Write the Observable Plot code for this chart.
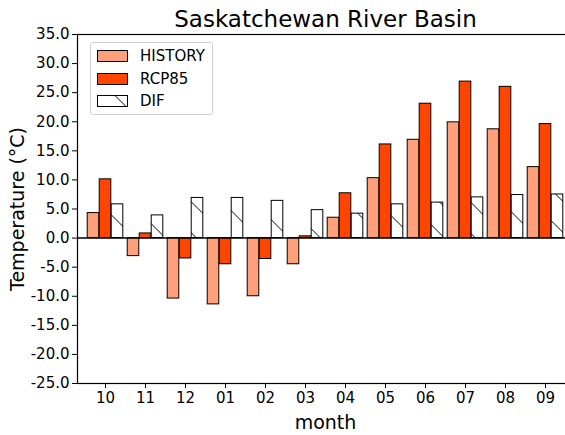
<!DOCTYPE html>
<html>
<head>
<meta charset="utf-8">
<script src="https://cdn.jsdelivr.net/npm/d3@7"></script>
<script src="https://cdn.jsdelivr.net/npm/@observablehq/plot@0.6"></script>
<style>
  html, body { margin: 0; padding: 0; background: white; overflow: hidden; }
  #wrap { position: relative; width: 565px; height: 435px; overflow: hidden; font-family: "DejaVu Sans", sans-serif; }
  #legend { position: absolute; left: 90px; top: 42px; width: 123px; height: 73px; box-sizing: border-box;
    border: 1px solid #d0d0d0; border-radius: 3px; background: rgba(255,255,255,0.85); }
  .row { position: absolute; left: 6px; height: 14px; display: flex; align-items: center; font-size: 15px; color: #000; }
  .row svg { margin-right: 12px; display: block; }
</style>
</head>
<body>
<div id="wrap">
  <div id="chart"></div>
  <div id="legend"></div>
</div>
<script>
const months = ["10","11","12","01","02","03","04","05","06","07","08","09"];
const history = [4.3, -3.1, -10.4, -11.4, -10.0, -4.5, 3.5, 10.3, 16.9, 19.9, 18.7, 12.2];
const rcp85   = [10.1, 0.8, -3.5, -4.5, -3.6, 0.3, 7.7, 16.1, 23.1, 26.9, 26.0, 19.6];
const dif     = [5.8, 3.9, 6.9, 6.9, 6.4, 4.8, 4.2, 5.8, 6.1, 7.0, 7.4, 7.5];
const seriesNames = ["HISTORY", "RCP85", "DIF"];
const yTicks = [-25, -20, -15, -10, -5, 0, 5, 10, 15, 20, 25, 30, 35];
const titleText = "Saskatchewan River Basin";
const xLabel = "month";
const yLabel = "Temperature (°C)";

const colHist = "#FFA07A", colRcp = "#FF4500";
const inset = 14.2, shift = 12;

const plot = Plot.plot({
  width: 580,
  height: 435,
  marginLeft: 77,
  marginRight: 7,
  marginTop: 34,
  marginBottom: 52,
  style: {fontFamily: "DejaVu Sans", fontSize: "15px", color: "black", background: "white", maxWidth: "none", overflow: "visible"},
  x: {type: "band", domain: months, paddingInner: 0, paddingOuter: 0.115, label: null, tickSize: 5, tickPadding: 4},
  y: {domain: [-25, 35], ticks: yTicks, tickFormat: d => d.toFixed(1), label: null, tickSize: 5, tickPadding: 3},
  marks: [
    Plot.barY(months, {x: d => d, y: (d, i) => history[i], fill: colHist, stroke: "black", strokeWidth: 1, insetLeft: inset, insetRight: inset, dx: -shift}),
    Plot.barY(months, {x: d => d, y: (d, i) => rcp85[i], fill: colRcp, stroke: "black", strokeWidth: 1, insetLeft: inset, insetRight: inset}),
    Plot.barY(months, {x: d => d, y: (d, i) => dif[i], fill: "url(#hatchDif)", stroke: "black", strokeWidth: 1, insetLeft: inset, insetRight: inset, dx: shift}),
    Plot.ruleY([0], {stroke: "black", strokeWidth: 1.5}),
    Plot.frame({stroke: "black", strokeWidth: 1.2}),
    Plot.text([titleText], {frameAnchor: "top", lineAnchor: "middle", textAnchor: "middle", dy: -14.5, fontSize: 23, fill: "black"}),
    Plot.text([xLabel], {frameAnchor: "bottom", lineAnchor: "middle", textAnchor: "middle", dy: 39, fontSize: 19, fill: "black"}),
    Plot.text([yLabel], {frameAnchor: "left", lineAnchor: "middle", textAnchor: "middle", dx: -60, rotate: -90, fontSize: 19, fill: "black"})
  ]
});

// hatch pattern for DIF bars ("\" hatching)
const P = 31;
plot.insertAdjacentHTML("afterbegin",
  `<defs><pattern id="hatchDif" patternUnits="userSpaceOnUse" x="0" y="22.5" width="${P}" height="${P}">
     <rect width="${P}" height="${P}" fill="white"/>
     <line x1="-2" y1="-2" x2="${P + 2}" y2="${P + 2}" stroke="black" stroke-width="1"/>
   </pattern></defs>`);
document.getElementById("chart").appendChild(plot);

// legend
const legend = document.getElementById("legend");
const swatch = (name) => {
  if (name === "HISTORY") return `<svg width="31" height="12"><rect x="0.5" y="0.5" width="30" height="11" fill="${colHist}" stroke="black"/></svg>`;
  if (name === "RCP85") return `<svg width="31" height="12"><rect x="0.5" y="0.5" width="30" height="11" fill="${colRcp}" stroke="black"/></svg>`;
  return `<svg width="31" height="12"><rect x="0.5" y="0.5" width="30" height="11" fill="white" stroke="black"/><line x1="18" y1="0.5" x2="29" y2="11.5" stroke="black"/></svg>`;
};
seriesNames.forEach((name, i) => {
  const row = document.createElement("div");
  row.className = "row";
  row.style.top = (6 + i * 22.5) + "px";
  row.innerHTML = swatch(name) + `<span>${name}</span>`;
  legend.appendChild(row);
});
</script>
</body>
</html>
